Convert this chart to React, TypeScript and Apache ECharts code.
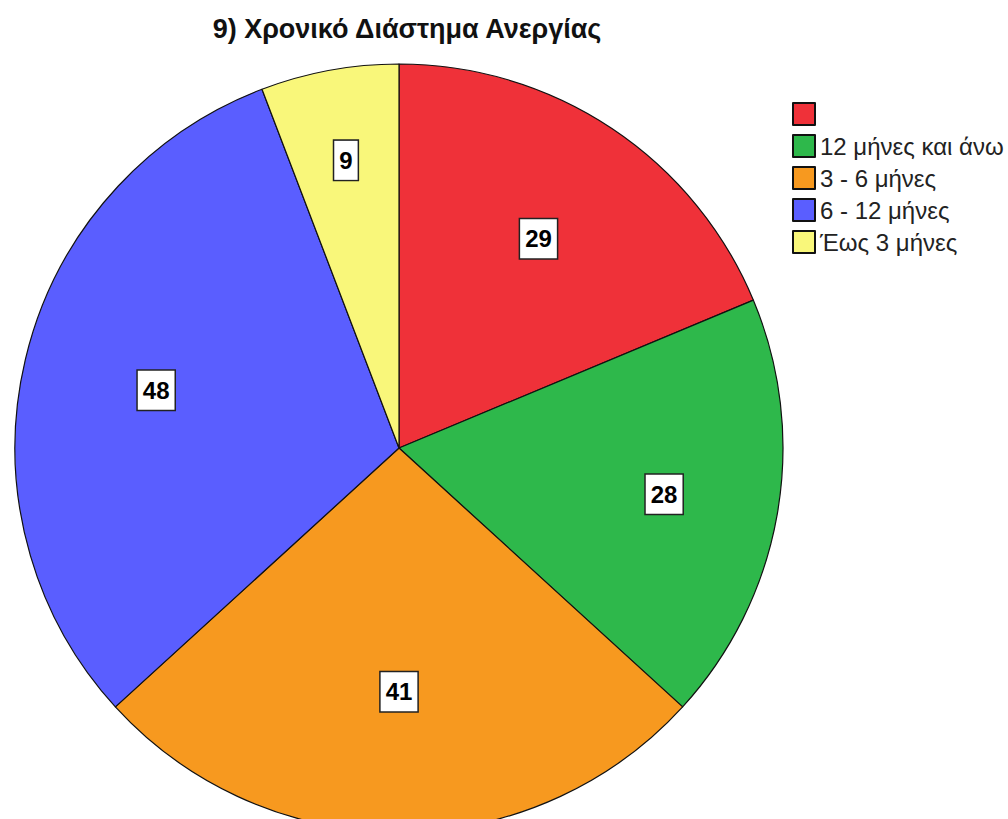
import React, { useEffect, useRef } from "react";
import * as echarts from "echarts";

const titleText = "9) Χρονικό Διάστημα Ανεργίας";
const categories = [" ", "12 μήνες και άνω", "3 - 6 μήνες", "6 - 12 μήνες", "Έως 3 μήνες"];
const counts = [29, 28, 41, 48, 9];
const colors = ["#ef3139", "#2eb84b", "#f7991f", "#5a5eff", "#f9f77a"];

// styling / layout constants
const CX = 399;
const CY = 448;
const R = 384;
const labelFactors = [1.29, 1.38, 1.25, 1.28, 1.5];
const FONT = "'Liberation Sans', Arial, sans-serif";

export default function App() {
  const ref = useRef<HTMLDivElement>(null);
  useEffect(() => {
    if (!ref.current) return;
    const chart = echarts.init(ref.current, undefined, { renderer: "svg" });
    chart.setOption({
      animation: false,
      backgroundColor: "#ffffff",
      title: {
        text: titleText,
        left: 402,
        textAlign: "center",
        top: 10,
        textStyle: { fontFamily: FONT, fontWeight: "bold", fontSize: 27, color: "#111" },
      },
      legend: {
        orient: "vertical",
        left: 787,
        top: 97,
        icon: "rect",
        itemWidth: 22,
        itemHeight: 22,
        itemGap: 8,
        data: categories,
        textStyle: { fontFamily: FONT, fontSize: 24, color: "#222", lineHeight: 22 },
      },
      series: [
        {
          type: "pie",
          center: [CX, CY],
          radius: R,
          startAngle: 90,
          clockwise: true,
          data: categories.map((name, i) => ({
            name,
            value: counts[i],
            itemStyle: { color: colors[i] },
          })),
          itemStyle: { borderColor: "#111", borderWidth: 1.2 },
          label: {
            show: true,
            position: "inside",
            formatter: "{c}",
            fontFamily: FONT,
            fontWeight: "bold",
            fontSize: 24,
            lineHeight: 24,
            color: "#000",
            backgroundColor: "#ffffff",
            borderColor: "#222",
            borderWidth: 1.5,
            padding: [8, 5, 7, 5],
          },
          labelLayout: (p: any) => {
            const r = p.labelRect;
            const cx = r.x + r.width / 2;
            const cy = r.y + r.height / 2;
            const k = labelFactors[p.dataIndex] - 1;
            return { dx: (cx - CX) * k, dy: (cy - CY) * k };
          },
          labelLine: { show: false },
          emphasis: { disabled: true },
        },
      ],
    });
    return () => chart.dispose();
  }, []);
  return (
    <div
      ref={ref}
      style={{ position: "fixed", left: 0, top: 0, width: 1008, height: 819 }}
    />
  );
}
